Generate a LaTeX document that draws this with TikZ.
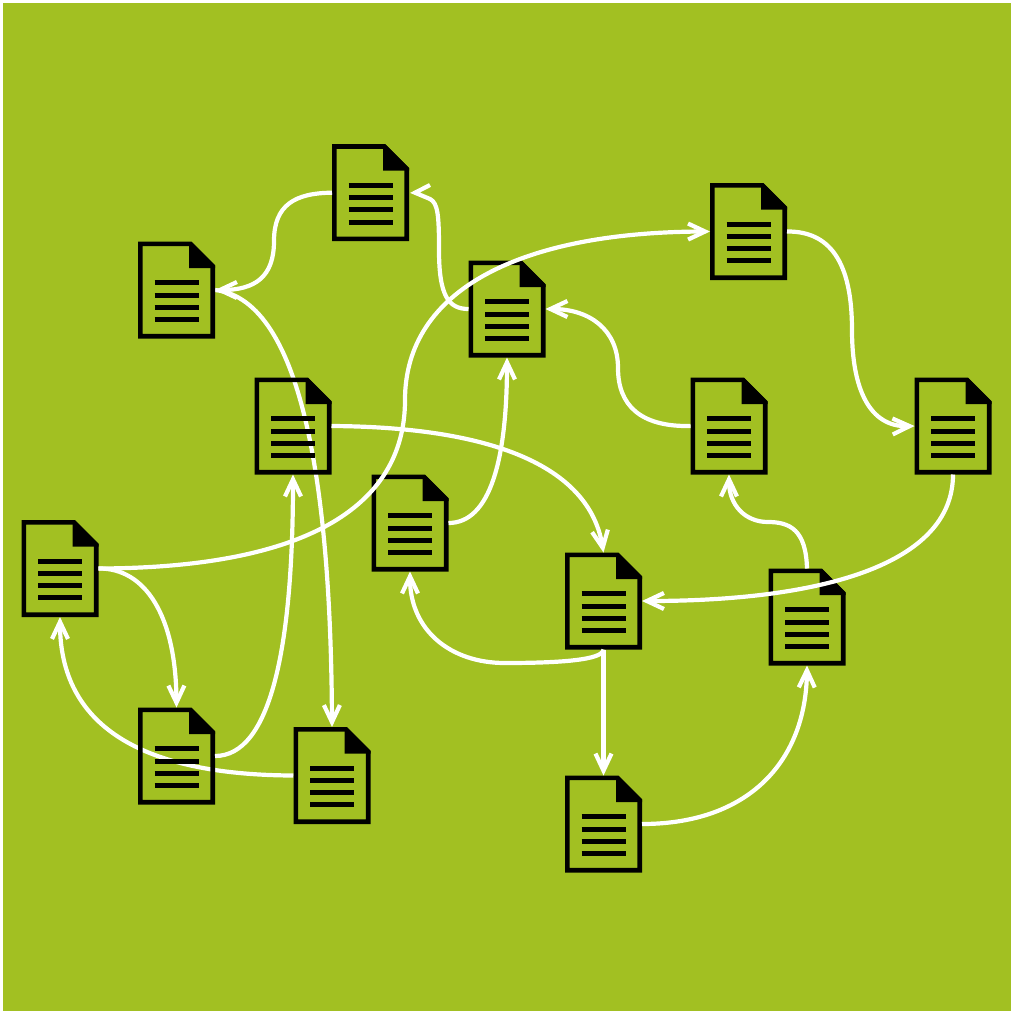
\documentclass[tikz,border=0pt]{standalone}
\usetikzlibrary{arrows.meta}
\definecolor{leaf}{RGB}{162,192,34}
\tikzset{
  x=1pt,y=-1pt,
  docbox/.style={minimum width=77pt,minimum height=97pt,inner sep=0pt,outer sep=0pt},
  docline/.style={draw=black,line width=4.6pt,line join=miter},
  docfold/.style={fill=black},
  docrule/.style={draw=black,line width=5pt},
  linkbare/.style={draw=white,line width=4.2pt,line join=miter},
  link/.style={linkbare,-{Straight Barb[length=17pt,width=16pt,line width=4.2pt]}},
}
\newcommand{\docplace}[3]{\node[docbox] (#1) at (#2,#3) {};}
\newcommand{\docicon}[1]{%
  \begin{scope}[shift={(#1.center)}]
    \draw[docline] (-36.2,-46.2) -- (14,-46.2) -- (36.2,-24) -- (36.2,46.2) -- (-36.2,46.2) -- cycle;
    \fill[docfold] (12.5,-48) -- (15,-48) -- (38.5,-24.5) -- (38.5,-22) -- (12.5,-22) -- cycle;
    \foreach \yy in {-7.4,5,17,29.3} \draw[docrule] (-22,\yy) -- (22,\yy);
  \end{scope}}
\begin{document}
\begin{tikzpicture}
\useasboundingbox (0,0) rectangle (1013,1013);
\fill[white] (0,0) rectangle (1013,1013);
\fill[leaf] (2.5,2.5) rectangle (1010.5,1010.5);
\docplace{A}{370.5}{192.7}
\docplace{B}{176.5}{290}
\docplace{C}{507}{309}
\docplace{D}{748.5}{231.5}
\docplace{E}{293}{426}
\docplace{F}{729}{426}
\docplace{G}{953}{426}
\docplace{H}{410}{523}
\docplace{I}{60}{568.5}
\docplace{J}{603.5}{601}
\docplace{K}{807}{617}
\docplace{L}{176.5}{756}
\docplace{M}{332}{775.5}
\docplace{N}{603.5}{824}
\coordinate (atip) at ([xshift=6pt]A.east);
\coordinate (abarb) at (430,185);
% connectors that run beneath the icons
\draw[link] (M.west) .. controls (140,775) and (60,725) .. (I.south);
\draw[link] (B.east) .. controls (305,300) and (331,500) .. (M.north);
% icons
\foreach \nm in {A,B,C,D,E,F,G,H,I,J,K,L,M,N} {\docicon{\nm}}
% connectors that run over the icons
\draw[link] (I.east) .. controls (300,568) and (405,510) .. (405,400) .. controls (405,290) and (520,232) .. (D.west);
\draw[link] (A.west) .. controls (295,193) and (274,205) .. (274,241) .. controls (274,277) and (255,290) .. (B.east);
\draw[linkbare] (C.west) .. controls (448,309) and (439,295) .. (439,250) .. controls (439,216) and (438,203) .. (430,199) -- (atip) -- (abarb);
\draw[link] (F.west) .. controls (640,427) and (618,405) .. (618,368) .. controls (618,330) and (590,309) .. (C.east);
\draw[link] (D.east) .. controls (835,231) and (852,270) .. (852,330) .. controls (852,390) and (870,427) .. (G.west);
\draw[link] (G.south) .. controls (953,565) and (820,601) .. (J.east);
\draw[link] (K.north) .. controls (806,530) and (790,522) .. (768,522) .. controls (745,522) and (729,505) .. (F.south);
\draw[link] (J.south) .. controls (603,660) and (560,663) .. (505,663) .. controls (450,663) and (410,630) .. (H.south);
\draw[link] (J.south) -- (N.north);
\draw[link] (N.east) .. controls (750,824) and (806,760) .. (K.south);
\draw[link] (H.east) .. controls (490,523) and (507,460) .. (C.south);
\draw[link] (I.east) .. controls (145,568) and (176,615) .. (L.north);
\draw[link] (E.east) .. controls (500,427) and (590,470) .. (J.north);
\draw[link] (L.east) .. controls (270,756) and (293,650) .. (E.south);
\end{tikzpicture}
\end{document}
